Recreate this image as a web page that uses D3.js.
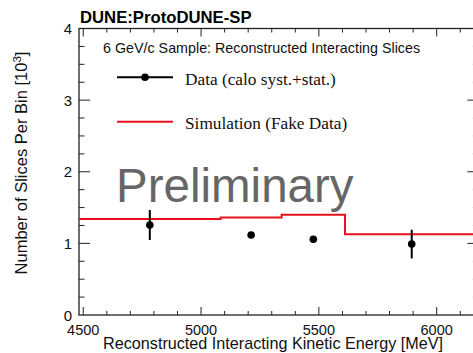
<!DOCTYPE html>
<html>
<head>
<meta charset="utf-8">
<script src="https://cdn.jsdelivr.net/npm/d3@7/dist/d3.min.js"></script>
<style>
  html, body { margin: 0; padding: 0; background: #fff; }
  svg { display: block; }
</style>
</head>
<body>
<svg id="chart" width="473" height="353"></svg>
<script>
// Histogram bin edges (MeV) and contents (in units of 10^3 slices)
const binEdges   = [4482, 5083, 5342, 5611, 6177];
const simValues  = [1.34, 1.36, 1.40, 1.127];
const dataValues = [1.257, 1.117, 1.057, 0.99];
const dataErrors = [0.21, 0.03, 0.03, 0.20];

const xMajorTicks = [4500, 5000, 5500, 6000];
const yMajorTicks = [0, 1, 2, 3, 4];

const xDomain = [4482, 6177];
const yDomain = [0, 4];

const SANS = "'Liberation Sans', Arial, Helvetica, sans-serif";
const SERIF = "'Liberation Serif', 'Times New Roman', Times, serif";

const svg = d3.select("#chart").style("font-family", SANS);
const frame = { left: 79, right: 478.4, top: 28.5, bottom: 315 };

const x = d3.scaleLinear().domain(xDomain).range([frame.left, frame.right]);
const y = d3.scaleLinear().domain(yDomain).range([frame.bottom, frame.top]);

const axisColor = "#222";

// Minor tick positions
const xMinor = d3.range(4500, 6177, 100).filter(v => !xMajorTicks.includes(v));
const yMinor = d3.range(0, 4.0001, 0.25).filter(v => !yMajorTicks.includes(+v.toFixed(2)));

// Frame
svg.append("rect")
  .attr("x", frame.left).attr("y", frame.top)
  .attr("width", frame.right - frame.left)
  .attr("height", frame.bottom - frame.top)
  .attr("fill", "none").attr("stroke", axisColor).attr("stroke-width", 1.3);

// Ticks drawn inward on all four sides
const tickG = svg.append("g").attr("stroke", axisColor).attr("stroke-width", 1);
function xTicks(vals, len) {
  vals.forEach(v => {
    tickG.append("line").attr("x1", x(v)).attr("x2", x(v))
      .attr("y1", frame.bottom).attr("y2", frame.bottom - len);
    tickG.append("line").attr("x1", x(v)).attr("x2", x(v))
      .attr("y1", frame.top).attr("y2", frame.top + len);
  });
}
function yTicks(vals, len) {
  vals.forEach(v => {
    tickG.append("line").attr("y1", y(v)).attr("y2", y(v))
      .attr("x1", frame.left).attr("x2", frame.left + len);
    tickG.append("line").attr("y1", y(v)).attr("y2", y(v))
      .attr("x1", frame.right).attr("x2", frame.right - len);
  });
}
xTicks(xMajorTicks, 8);
xTicks(xMinor, 4);
yTicks(yMajorTicks.filter(v => v > 0 && v < 4), 11);
yTicks(yMinor, 5.5);

// Tick labels
svg.append("g").selectAll("text").data(xMajorTicks).join("text")
  .attr("x", d => x(d)).attr("y", 334.5)
  .attr("text-anchor", "middle").attr("font-size", 14.5).attr("fill", "#111")
  .text(d => d);

svg.append("g").selectAll("text").data(yMajorTicks).join("text")
  .attr("x", 72).attr("y", d => y(d) + 5.5)
  .attr("text-anchor", "end").attr("font-size", 15).attr("fill", "#111")
  .text(d => d);

// Axis titles
svg.append("text")
  .attr("x", 103).attr("y", 349)
  .attr("text-anchor", "start").attr("font-size", 16.2).attr("fill", "#111")
  .text("Reconstructed Interacting Kinetic Energy [MeV]");

const yTitle = svg.append("text")
  .attr("transform", "translate(27,163) rotate(-90)")
  .attr("text-anchor", "middle").attr("font-size", 16.5).attr("fill", "#111");
yTitle.append("tspan").text("Number of Slices Per Bin [10");
yTitle.append("tspan").attr("dy", -6).attr("font-size", 11.5).text("3");
yTitle.append("tspan").attr("dy", 6).text("]");

// Watermark
svg.append("text")
  .attr("x", 116).attr("y", 201.7)
  .attr("font-size", 47.5).attr("fill", "#666")
  .text("Preliminary");

// Simulation histogram as a step line
const stepPts = [];
simValues.forEach((v, i) => {
  stepPts.push([binEdges[i], v]);
  stepPts.push([binEdges[i + 1], v]);
});
svg.append("path")
  .datum(stepPts)
  .attr("fill", "none").attr("stroke", "#e8101a").attr("stroke-width", 2)
  .attr("d", d3.line().x(d => x(d[0])).y(d => y(d[1])));

// Data points with error bars at bin centres
const pts = dataValues.map((v, i) => ({
  cx: (binEdges[i] + binEdges[i + 1]) / 2, v, e: dataErrors[i]
}));
const dataG = svg.append("g");
dataG.selectAll("line").data(pts).join("line")
  .attr("x1", d => x(d.cx)).attr("x2", d => x(d.cx))
  .attr("y1", d => y(d.v - d.e)).attr("y2", d => y(d.v + d.e))
  .attr("stroke", "#000").attr("stroke-width", 2);
dataG.selectAll("circle").data(pts).join("circle")
  .attr("cx", d => x(d.cx)).attr("cy", d => y(d.v)).attr("r", 3.8)
  .attr("fill", "#000");

// Title and sample label
svg.append("text")
  .attr("x", 80).attr("y", 22.5)
  .attr("font-size", 16.7).attr("font-weight", "bold").attr("fill", "#000")
  .text("DUNE:ProtoDUNE-SP");

svg.append("text")
  .attr("x", 103).attr("y", 53)
  .attr("font-size", 14.3).attr("fill", "#111")
  .text("6 GeV/c Sample: Reconstructed Interacting Slices");

// Legend
const leg = svg.append("g");
leg.append("line").attr("x1", 117).attr("x2", 173).attr("y1", 77.3).attr("y2", 77.3)
  .attr("stroke", "#000").attr("stroke-width", 2);
leg.append("circle").attr("cx", 145).attr("cy", 77.3).attr("r", 3.8).attr("fill", "#000");
leg.append("text").attr("x", 185).attr("y", 84.5)
  .style("font-family", SERIF)
  .attr("font-size", 17.3).attr("fill", "#111")
  .text("Data (calo syst.+stat.)");

leg.append("line").attr("x1", 117).attr("x2", 173).attr("y1", 121.7).attr("y2", 121.7)
  .attr("stroke", "#e8101a").attr("stroke-width", 2);
leg.append("text").attr("x", 185).attr("y", 129)
  .style("font-family", SERIF)
  .attr("font-size", 17.3).attr("fill", "#111")
  .text("Simulation (Fake Data)");
</script>
</body>
</html>
